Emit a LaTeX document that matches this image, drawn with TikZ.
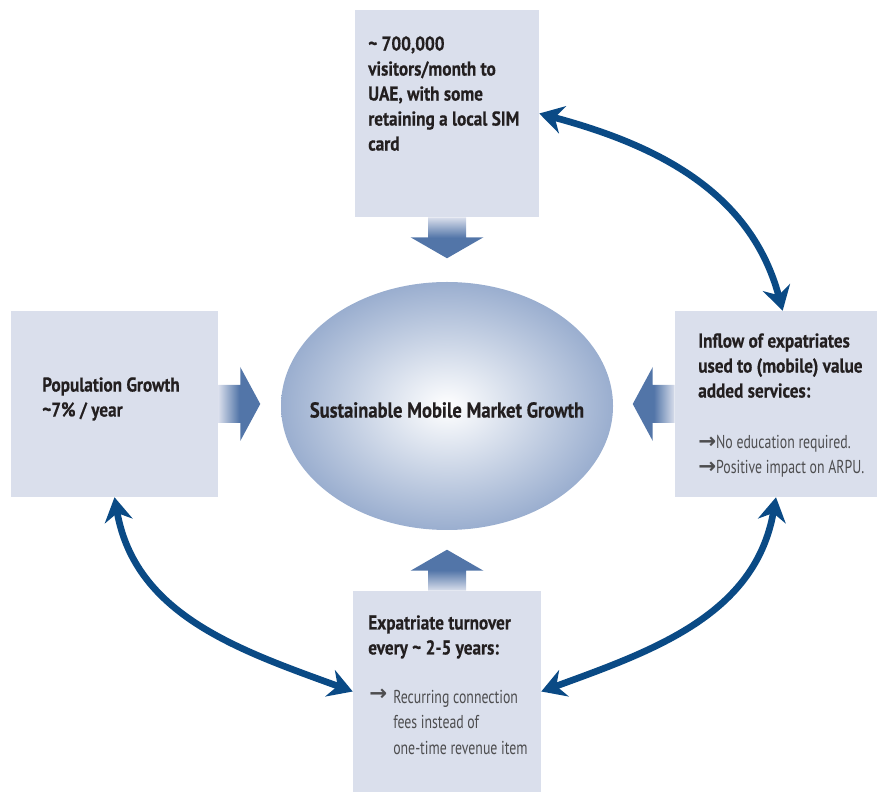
\documentclass[tikz,border=0pt]{standalone}
\usepackage{fontspec}
\setmainfont{PT Sans}[FakeStretch=0.86, BoldFeatures={FakeBold=0.4}]
\newfontfamily\notefont{PT Sans}[FakeStretch=0.74]
\newfontfamily\arrowfont{DejaVu Sans}
\usetikzlibrary{arrows.meta,shapes.geometric}

\definecolor{boxfill}{HTML}{DADFEC}
\definecolor{ringblue}{HTML}{0A4A85}
\definecolor{pushblue}{HTML}{5275A8}
\definecolor{coreedge}{HTML}{9AAECF}
\definecolor{bodytext}{HTML}{231F20}
\definecolor{notetext}{HTML}{4D4D4F}

% block arrows fade from the panel colour into blue
\pgfdeclarehorizontalshading{pushfade}{100bp}{color(0bp)=(boxfill); color(25bp)=(boxfill); color(50bp)=(pushblue); color(100bp)=(pushblue)}

\newcommand{\tick}{{\arrowfont\bfseries\fontsize{16}{19}\selectfont→}}

\begin{document}
\begin{tikzpicture}[
  x=0.75pt, y=0.75pt,
  panel/.style={fill=boxfill, inner sep=0pt},
  lead/.style={anchor=north west, inner sep=0pt, align=left, text=bodytext,
               font=\fontsize{15}{18.75}\selectfont\bfseries},
  note/.style={anchor=north west, inner sep=0pt, align=left, text=notetext,
               font=\notefont\fontsize{14}{19}\selectfont},
  core/.style={ellipse, inner sep=0pt, minimum width=249pt, minimum height=186pt,
               inner color=white, outer color=coreedge},
  push/.style={shading=pushfade},
  roundtrip/.style={{Stealth[length=18pt,width=21pt,inset=6pt]}-{Stealth[length=18pt,width=21pt,inset=6pt]},
                    line width=5pt, draw=ringblue},
]
\useasboundingbox (0,0) rectangle (877,792);

% ---- Panels -----------------------------------------------------------------
\node[panel, minimum width=138pt,    minimum height=155.25pt] (visitors)   at (447,678.5) {};
\node[panel, minimum width=155.25pt, minimum height=139.5pt]  (population) at (114.5,388) {};
\node[panel, minimum width=151.5pt,  minimum height=139.5pt]  (expats)     at (776,388)   {};
\node[panel, minimum width=141pt,    minimum height=150.75pt] (turnover)   at (447,100.5) {};

% ---- Centre -----------------------------------------------------------------
\node[core] (market) at (447,386) {};
\node[text=bodytext, font=\fontsize{16.2}{19}\selectfont\bfseries] (markettxt)
  at ([yshift=-3pt]market.center) {Sustainable Mobile Market Growth};

% ---- Panel texts ------------------------------------------------------------
\node[lead] (visitorstxt) at (368,756)
  {\textasciitilde{} 700,000\\visitors/month to\\UAE, with some\\retaining a local SIM\\card};
\node[lead] (populationtxt) at (42,415)
  {Population Growth\\\textasciitilde7\% / year};
\node[lead] (expatstxt) at (698,459)
  {Inflow of expatriates\\used to (mobile) value\\added services:};
\node[note] (expatsnote) at (698,357)
  {\tick No education required.\\\tick Positive impact on ARPU.};
\node[lead] (turnovertxt) at (368,177)
  {Expatriate turnover\\every \textasciitilde{} 2-5 years:};
\node[note] (turnovertick) at (369,103) {\tick};
\node[note] (turnovernote) at (393,102)
  {Recurring connection\\fees instead of\\one-time revenue item};

% ---- Block arrows into the centre -------------------------------------------
\shade[push, shading angle=-90] (visitors.south) ++(-19,0) -- ++(0,-20) -- ++(-17.5,0)
  -- ++(36.5,-21) -- ++(36.5,21) -- ++(-17.5,0) -- ++(0,20) -- cycle;
\shade[push, shading angle=90] (turnover.north) ++(-19,0) -- ++(0,20) -- ++(-17.5,0)
  -- ++(36.5,21) -- ++(36.5,-21) -- ++(-17.5,0) -- ++(0,-20) -- cycle;
\shade[push, shading angle=0] (population.east) ++(0,-19) -- ++(22,0) -- ++(0,-18)
  -- ++(20,37) -- ++(-20,37) -- ++(0,-18) -- ++(-22,0) -- cycle;
\shade[push, shading angle=180] (expats.west) ++(0,-19) -- ++(-22,0) -- ++(0,-18)
  -- ++(-20,37) -- ++(20,37) -- ++(0,-18) -- ++(22,0) -- cycle;

% ---- Two-way arrows round the panels ----------------------------------------
\draw[roundtrip] (visitors.east) to[out=-15, in=105] ([xshift=5pt]expats.north);
\draw[roundtrip] (expats.south) to[out=-100, in=20] (turnover.east);
\draw[roundtrip] (population.south) to[out=-80, in=160] (turnover.west);

\end{tikzpicture}
\end{document}
